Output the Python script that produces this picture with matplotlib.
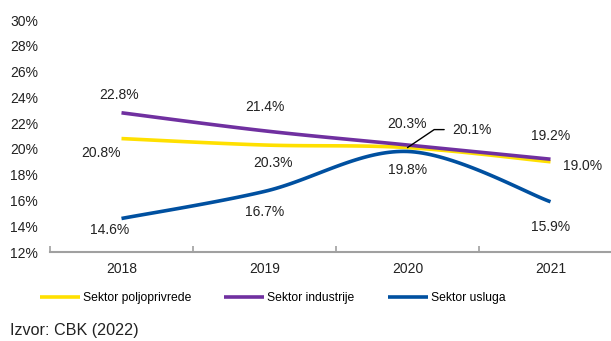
import numpy as np
import matplotlib.pyplot as plt

plt.rcParams['font.family'] = ['Liberation Sans', 'DejaVu Sans']

# podaci
years = ['2018', '2019', '2020', '2021']
poljoprivreda = [20.8, 20.3, 20.1, 19.0]
industrija = [22.8, 21.4, 20.3, 19.2]
usluge = [14.6, 16.7, 19.8, 15.9]
y_ticks = [12, 14, 16, 18, 20, 22, 24, 26, 28, 30]

names = ['Sektor poljoprivrede', 'Sektor industrije', 'Sektor usluga']
colors = ['#FFE000', '#7030A0', '#0050A0']


def smooth(x, y, n=40):
    # Catmull-Rom kao "smoothed line" u Excelu
    x = np.asarray(x, float)
    y = np.asarray(y, float)
    px = np.concatenate([[x[0]], x, [x[-1]]])
    py = np.concatenate([[y[0]], y, [y[-1]]])
    xs, ys = [], []
    t = np.linspace(0, 1, n)
    for i in range(1, len(px) - 2):
        for p, out in ((px, xs), (py, ys)):
            p0, p1, p2, p3 = p[i - 1], p[i], p[i + 1], p[i + 2]
            b1 = p1 + (p2 - p0) / 6
            b2 = p2 - (p3 - p1) / 6
            out.extend((1 - t) ** 3 * p1 + 3 * (1 - t) ** 2 * t * b1
                       + 3 * (1 - t) * t ** 2 * b2 + t ** 3 * p2)
    return np.array(xs), np.array(ys)


fig = plt.figure(figsize=(6.11, 3.41), dpi=100)
ax = fig.add_axes([50 / 611, 89 / 341, 572 / 611, 232 / 341])
x = np.arange(len(years))

series = [poljoprivreda, industrija, usluge]
for vals, c, name in zip(series, colors, names):
    sx, sy = smooth(x, vals)
    ax.plot(sx, sy, color=c, lw=2.6, solid_capstyle='butt', label=name)

ax.set_xlim(-0.5, 3.5)
ax.set_ylim(12, 30)
ax.set_yticks(y_ticks)
ax.set_yticklabels([f'{v}%' for v in y_ticks])

ax.set_xticks(x)
ax.set_xticklabels(years)
ax.set_xticks(np.arange(-0.5, 4, 1), minor=True)
ax.tick_params(axis='x', which='major', length=0, pad=7, labelsize=10, colors='#222222')
ax.tick_params(axis='x', which='minor', direction='in', length=4, color='#A0A0A0', width=1.2)
ax.tick_params(axis='y', length=0, pad=8.6, labelsize=10, colors='#222222')

for s in ['top', 'right', 'left']:
    ax.spines[s].set_visible(False)
ax.spines['bottom'].set_color('#A0A0A0')
ax.spines['bottom'].set_linewidth(1.5)

# oznake vrijednosti (pomak u pikselima)
offsets = [
    [(-20, -14), (8, -18), None, (32, -4)],
    [(-2, 18), (0, 24), (0, 21), (0, 23)],
    [(-12, -12), (0, -21), (0, -19), (0, -25)],
]
for vals, offs in zip(series, offsets):
    for i, (v, o) in enumerate(zip(vals, offs)):
        if o is None:
            continue
        ax.annotate(f'{v}%', (x[i], v), xytext=o, textcoords='offset pixels',
                    ha='center', va='center', fontsize=10, color='#222222')

# 20.1% s linijom
v = poljoprivreda[2]
ax.annotate(f'{v}%', (x[2], v), xytext=(45, 18), textcoords='offset pixels',
            ha='left', va='center', fontsize=10, color='#222222',
            arrowprops=dict(arrowstyle='-', color='black', lw=1, shrinkA=4, shrinkB=0,
                            relpos=(0, 0.5),
                            connectionstyle='angle,angleA=0,angleB=34,rad=0'))

fig.legend(loc='center left', bbox_to_anchor=(40 / 611, 1 - 298 / 341), ncol=3,
           frameon=False, fontsize=8.7, handlelength=3.3, handletextpad=0.25,
           columnspacing=2.75, borderpad=0, borderaxespad=0)
fig.text(10 / 611, 1 - 330 / 341, 'Izvor: CBK (2022)', fontsize=11.6,
         ha='left', va='center', color='#222222')

fig.savefig('out.png', dpi=100)
